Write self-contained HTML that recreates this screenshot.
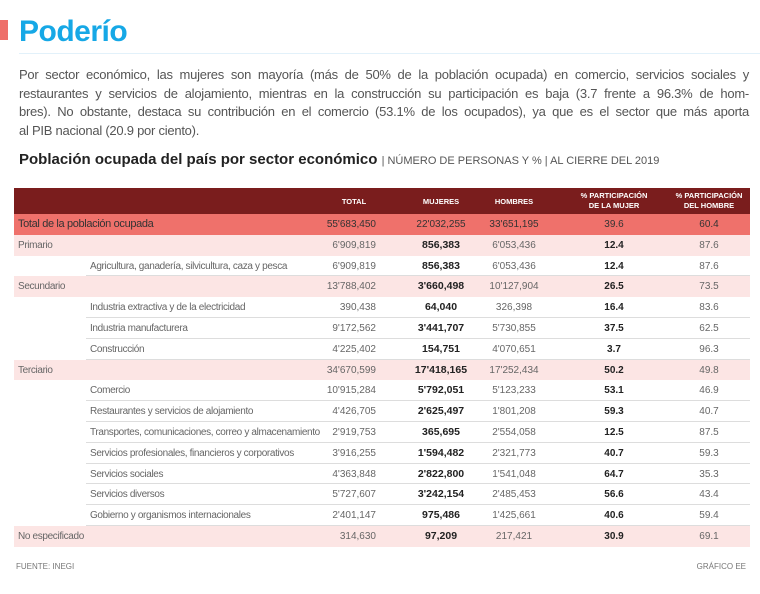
<!DOCTYPE html>
<html><head><meta charset="utf-8">
<style>
*{margin:0;padding:0;box-sizing:border-box}
body{width:760px;height:594px;background:#fff;font-family:"Liberation Sans",sans-serif;position:relative;overflow:hidden;color:#444}
#redmark{position:absolute;left:0;top:20px;width:8px;height:20px;background:#ee6f6a}
#title{position:absolute;left:19px;top:15px;font-size:30px;font-weight:bold;color:#16a8e6;letter-spacing:-0.5px}
#rule{position:absolute;left:19px;top:53px;width:741px;height:1px;background:#e2f1fa}
#intro{position:absolute;left:19px;top:66px;width:730px;font-size:13px;line-height:18.7px;color:#555;letter-spacing:-0.25px}
#intro .ln{display:block;white-space:nowrap;text-align:justify;text-align-last:justify}
#intro .ln.last{text-align-last:left}
#sub{position:absolute;left:19px;top:151px;font-size:15px;font-weight:bold;color:#222;white-space:nowrap}
#sub span{font-weight:normal;font-size:11px;color:#555}
#tbl{position:absolute;left:14px;top:188px;width:736px}
.hdr{height:26px;background:#7a1d1d;position:relative;color:#fff;font-size:7.5px;font-weight:bold}
.hdr div{position:absolute;text-align:center;line-height:10px}
.row{height:20.8px;position:relative;font-size:10px;color:#666}
.row div{position:absolute;top:0;height:20.8px;line-height:21px;white-space:nowrap}
.total{background:#ef716b;color:#333}
.sector{background:#fce5e4}
.subrow{background:#fff}
.subrow::after{content:"";position:absolute;left:72px;right:0;bottom:0;height:1px;background:#ddd}
.b{font-weight:bold;color:#222}
.lab{letter-spacing:-0.35px}
#src{position:absolute;left:16px;top:562px;font-size:8px;color:#777}
#cred{position:absolute;right:14px;top:562px;font-size:8px;color:#777}
</style></head><body>
<div id="redmark"></div>
<div id="title">Poderío</div>
<div id="rule"></div>
<div id="intro"><span class="ln">Por sector económico, las mujeres son mayoría (más de 50% de la población ocupada) en comercio, servicios sociales y</span><span class="ln">restaurantes y servicios de alojamiento, mientras en la construcción su participación es baja (3.7 frente a 96.3% de hom-</span><span class="ln">bres). No obstante, destaca su contribución en el comercio (53.1% de los ocupados), ya que es el sector que más aporta</span><span class="ln last">al PIB nacional (20.9 por ciento).</span></div>
<div id="sub">Población ocupada del país por sector económico <span>| NÚMERO DE PERSONAS Y % | AL CIERRE DEL 2019</span></div>
<div id="tbl">
<div class="hdr">
<div style="left:310px;width:60px;top:9px">TOTAL</div>
<div style="left:392px;width:70px;top:9px">MUJERES</div>
<div style="left:465px;width:70px;top:9px">HOMBRES</div>
<div style="left:555px;width:90px;top:3px">% PARTICIPACIÓN<br>DE LA MUJER</div>
<div style="left:650px;width:90px;top:3px">% PARTICIPACIÓN<br>DEL HOMBRE</div>
</div>
<div id="rows"></div>
</div>
<div id="src">FUENTE: INEGI</div>
<div id="cred">GRÁFICO EE</div>
<script>
const labels=["Total de la población ocupada","Primario","Agricultura, ganadería, silvicultura, caza y pesca","Secundario","Industria extractiva y de la electricidad","Industria manufacturera","Construcción","Terciario","Comercio","Restaurantes y servicios de alojamiento","Transportes, comunicaciones, correo y almacenamiento","Servicios profesionales, financieros y corporativos","Servicios sociales","Servicios diversos","Gobierno y organismos internacionales","No especificado"];
const kinds=["total","sector","subrow","sector","subrow","subrow","subrow","sector","subrow","subrow","subrow","subrow","subrow","subrow","subrow","sector"];
const totals=["55'683,450","6'909,819","6'909,819","13'788,402","390,438","9'172,562","4'225,402","34'670,599","10'915,284","4'426,705","2'919,753","3'916,255","4'363,848","5'727,607","2'401,147","314,630"];
const women=["22'032,255","856,383","856,383","3'660,498","64,040","3'441,707","154,751","17'418,165","5'792,051","2'625,497","365,695","1'594,482","2'822,800","3'242,154","975,486","97,209"];
const men=["33'651,195","6'053,436","6'053,436","10'127,904","326,398","5'730,855","4'070,651","17'252,434","5'123,233","1'801,208","2'554,058","2'321,773","1'541,048","2'485,453","1'425,661","217,421"];
const pctW=["39.6","12.4","12.4","26.5","16.4","37.5","3.7","50.2","53.1","59.3","12.5","40.7","64.7","56.6","40.6","30.9"];
const pctM=["60.4","87.6","87.6","73.5","83.6","62.5","96.3","49.8","46.9","40.7","87.5","59.3","35.3","43.4","59.4","69.1"];
const wrap=document.getElementById('rows');
labels.forEach((lab,i)=>{
  const r=document.createElement('div');
  r.className='row '+kinds[i];
  
  
  const isT=kinds[i]==='total', isSub=kinds[i]==='subrow';
  const bw=isT?'':' b';
  r.innerHTML=
   `<div class="lab" style="left:${isSub?76:4}px;font-size:${isT?11:10}px">${lab}</div>`+
   `<div style="left:280px;width:82px;text-align:right">${totals[i]}</div>`+
   `<div class="${bw}" style="left:377px;width:100px;text-align:center;font-size:${isT?10:10.5}px">${women[i]}</div>`+
   `<div style="left:450px;width:100px;text-align:center">${men[i]}</div>`+
   `<div class="${bw}" style="left:560px;width:80px;text-align:center">${pctW[i]}</div>`+
   `<div style="left:655px;width:80px;text-align:center">${pctM[i]}</div>`;
  wrap.appendChild(r);
});
</script>
</body></html>
